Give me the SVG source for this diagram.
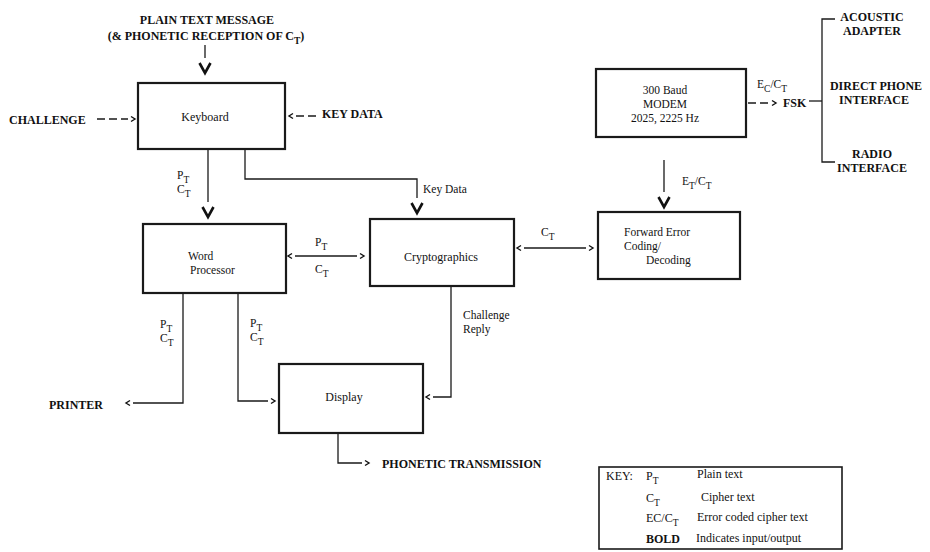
<svg xmlns="http://www.w3.org/2000/svg" width="930" height="552" viewBox="0 0 930 552">
<style>
  .bg { fill: #ffffff; }
  .box { fill: none; stroke: #1a1a1a; stroke-width: 2.2; }
  .keybox { fill: none; stroke: #1a1a1a; stroke-width: 1.6; }
  .ln { fill: none; stroke: #1a1a1a; stroke-width: 1.3; }
  .dash { stroke-dasharray: 8 4; }
  text { font-family: "Liberation Serif", "Times New Roman", serif; fill: #111; }
  .lbl { font-size: 12px; }
  .ml { font-size: 11.5px; }
  .io { font-size: 12px; font-weight: bold; }
  .sm { font-size: 11.5px; }
  .mid { text-anchor: middle; }
</style>
<defs>
  <marker id="vee" markerUnits="userSpaceOnUse" orient="auto" refX="0" refY="0" markerWidth="20" markerHeight="16" viewBox="0 -8 20 16" overflow="visible">
    <path d="M5,-5.5 L15,0 L5,5.5" fill="none" stroke="#111" stroke-width="2.6" stroke-linejoin="miter"/>
  </marker>
  <marker id="chev" markerUnits="userSpaceOnUse" orient="auto-start-reverse" refX="0" refY="0" markerWidth="10" markerHeight="8" viewBox="0 -4 10 8" overflow="visible">
    <path d="M3,-2.5 L7,0 L3,2.5" fill="none" stroke="#111" stroke-width="1.4" stroke-dasharray="none"/>
  </marker>
</defs>
<rect class="bg" x="0" y="0" width="930" height="552"/>

<g id="connectors">
  <path class="ln" d="M205,45 V58" marker-end="url(#vee)"/>
  <path class="ln dash" d="M97,119 H128" marker-end="url(#chev)"/>
  <path class="ln dash" d="M316,116 H296" marker-end="url(#chev)"/>
  <path class="ln" d="M208,150 V202" marker-end="url(#vee)"/>
  <path class="ln" d="M245,150 V179 H417 V198" marker-end="url(#vee)"/>
  <path class="ln" d="M295,256 H357" marker-start="url(#chev)" marker-end="url(#chev)"/>
  <path class="ln" d="M524,248 H586" marker-start="url(#chev)" marker-end="url(#chev)"/>
  <path class="ln" d="M664,160 V192" marker-end="url(#vee)"/>
  <path class="ln dash" d="M748,103 H769" marker-end="url(#chev)"/>
  <path class="ln" d="M809,101 H822"/>
  <path class="ln" d="M835,19 H822 V162 H835"/>
  <path class="ln" d="M183,293 V403 H133" marker-end="url(#chev)"/>
  <path class="ln" d="M238,293 V401 H268" marker-end="url(#chev)"/>
  <path class="ln" d="M451,287 V397 H433" marker-end="url(#chev)"/>
  <path class="ln" d="M338,433 V463 H362" marker-end="url(#chev)"/>
</g>

<g id="labels">
  <text class="io mid" x="207" y="24">PLAIN TEXT MESSAGE</text>
  <text class="io mid" x="206" y="40">(&amp; PHONETIC RECEPTION OF C<tspan dy="3.5" font-size="9.5">T</tspan><tspan dy="-3.5">)</tspan></text>
  <text class="io" x="9" y="124">CHALLENGE</text>
  <text class="io" x="322" y="118">KEY DATA</text>
  <text class="sm" x="177" y="179">P<tspan dy="3.5" font-size="9.5">T</tspan></text>
  <text class="sm" x="177" y="193">C<tspan dy="3.5" font-size="9.5">T</tspan></text>
  <text class="sm" x="423" y="193">Key Data</text>
  <text class="sm" x="315" y="246">P<tspan dy="3.5" font-size="9.5">T</tspan></text>
  <text class="sm" x="315" y="273">C<tspan dy="3.5" font-size="9.5">T</tspan></text>
  <text class="sm" x="541" y="236">C<tspan dy="3.5" font-size="9.5">T</tspan></text>
  <text class="sm" x="682" y="185">E<tspan dy="3.5" font-size="9.5">T</tspan><tspan dy="-3.5">/C</tspan><tspan dy="3.5" font-size="9.5">T</tspan></text>
  <text class="sm" x="757" y="88">E<tspan dy="3.5" font-size="9.5">C</tspan><tspan dy="-3.5">/C</tspan><tspan dy="3.5" font-size="9.5">T</tspan></text>
  <text class="io" x="783" y="107">FSK</text>
  <text class="io mid" x="872" y="21">ACOUSTIC</text>
  <text class="io mid" x="872" y="35">ADAPTER</text>
  <text class="io mid" x="876" y="90">DIRECT PHONE</text>
  <text class="io mid" x="874" y="104">INTERFACE</text>
  <text class="io mid" x="872" y="158">RADIO</text>
  <text class="io mid" x="872" y="172">INTERFACE</text>
  <text class="sm" x="160" y="328">P<tspan dy="3.5" font-size="9.5">T</tspan></text>
  <text class="sm" x="160" y="342">C<tspan dy="3.5" font-size="9.5">T</tspan></text>
  <text class="sm" x="250" y="327">P<tspan dy="3.5" font-size="9.5">T</tspan></text>
  <text class="sm" x="250" y="341">C<tspan dy="3.5" font-size="9.5">T</tspan></text>
  <text class="sm" x="463" y="319">Challenge</text>
  <text class="sm" x="463" y="333">Reply</text>
  <text class="io" x="49" y="409">PRINTER</text>
  <text class="io" x="382" y="468">PHONETIC TRANSMISSION</text>
</g>

<g id="keyboard">
  <rect class="box" x="138" y="83" width="147" height="66"/>
  <text class="lbl mid" x="205" y="121">Keyboard</text>
</g>
<g id="word-processor">
  <rect class="box" x="143" y="224" width="143" height="69"/>
  <text class="ml" x="188" y="260">Word</text>
  <text class="ml" x="190" y="274">Processor</text>
</g>
<g id="cryptographics">
  <rect class="box" x="370" y="219" width="144" height="67"/>
  <text class="lbl mid" x="441" y="261">Cryptographics</text>
</g>
<g id="fec">
  <rect class="box" x="598" y="212" width="142" height="67"/>
  <text class="ml" x="624" y="236">Forward Error</text>
  <text class="ml" x="624" y="250">Coding/</text>
  <text class="ml" x="646" y="264">Decoding</text>
</g>
<g id="modem">
  <rect class="box" x="596" y="69" width="150" height="68"/>
  <text class="ml mid" x="665" y="94">300 Baud</text>
  <text class="ml mid" x="665" y="108">MODEM</text>
  <text class="ml mid" x="665" y="122">2025, 2225 Hz</text>
</g>
<g id="display">
  <rect class="box" x="279" y="364" width="144" height="69"/>
  <text class="lbl mid" x="344" y="401">Display</text>
</g>
<g id="key">
  <rect class="keybox" x="599" y="467" width="243" height="82"/>
  <text class="lbl" x="606" y="480">KEY:</text>
  <text class="lbl" x="646" y="480">P<tspan dy="3.5" font-size="9.5">T</tspan></text>
  <text class="lbl" x="697" y="478">Plain text</text>
  <text class="lbl" x="646" y="502">C<tspan dy="3.5" font-size="9.5">T</tspan></text>
  <text class="lbl" x="701" y="501">Cipher text</text>
  <text class="lbl" x="646" y="522">EC/C<tspan dy="3.5" font-size="9.5">T</tspan></text>
  <text class="lbl" x="697" y="521">Error coded cipher text</text>
  <text class="io" x="646" y="543">BOLD</text>
  <text class="lbl" x="696" y="542">Indicates input/output</text>
</g>
</svg>
